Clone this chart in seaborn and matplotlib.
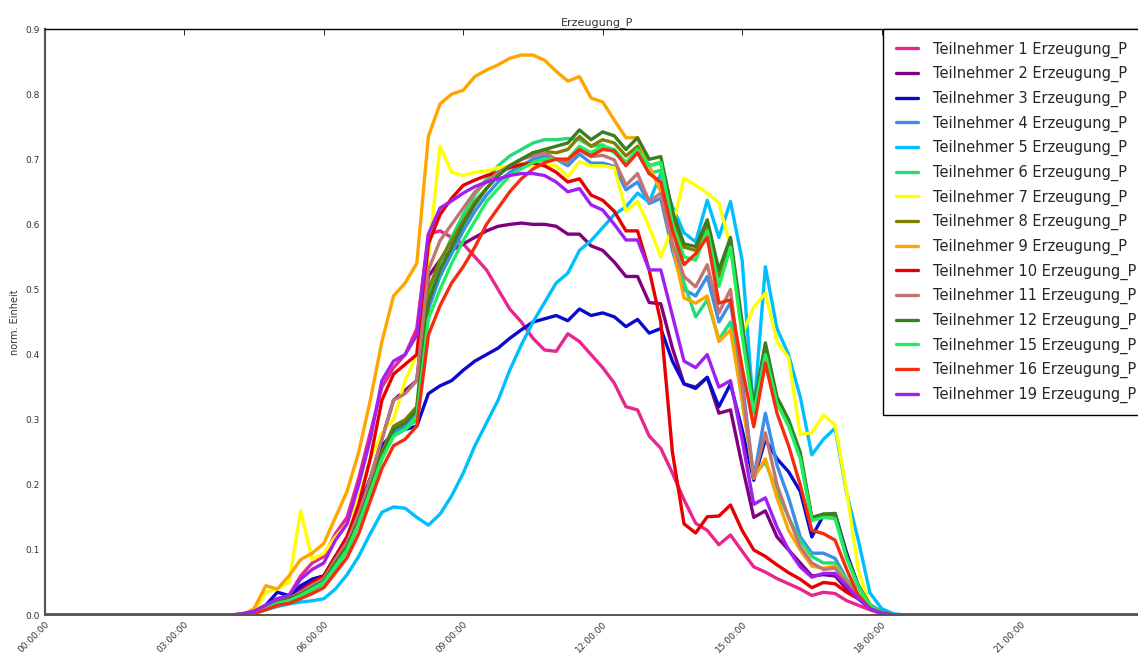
import numpy as np
import pandas as pd
import matplotlib
matplotlib.use("Agg")
import matplotlib.pyplot as plt
import matplotlib.dates as mdates
import seaborn as sns


sns.set_theme(style="white")
plt.rcParams["font.family"] = ["DejaVu Sans"]
plt.rcParams["xtick.direction"] = "in"
plt.rcParams["ytick.direction"] = "in"

# 15-min samples; values listed from 04:00 (index 16) to 18:15 (index 73), zero outside
START = 16
N_STEPS = 96

T1 = [0.0, 0.002, 0.006, 0.015, 0.025, 0.03, 0.06, 0.08, 0.09, 0.125, 0.15, 0.21,
      0.28, 0.35, 0.38, 0.40, 0.44, 0.585, 0.59, 0.58, 0.57, 0.55, 0.53, 0.50,
      0.47, 0.45, 0.425, 0.407, 0.405, 0.432, 0.42, 0.40, 0.38, 0.356, 0.32, 0.315,
      0.275, 0.256, 0.218, 0.177, 0.141, 0.13, 0.108, 0.123, 0.098, 0.074, 0.066, 0.056,
      0.048, 0.04, 0.03, 0.035, 0.033, 0.022, 0.015, 0.008, 0.002, 0.0]
T2 = [0.0, 0.001, 0.004, 0.012, 0.025, 0.025, 0.04, 0.055, 0.06, 0.09, 0.115, 0.16,
      0.21, 0.27, 0.33, 0.345, 0.36, 0.52, 0.545, 0.56, 0.57, 0.58, 0.59, 0.597,
      0.60, 0.602, 0.60, 0.60, 0.597, 0.585, 0.585, 0.567, 0.56, 0.542, 0.52, 0.52,
      0.48, 0.478, 0.41, 0.355, 0.35, 0.365, 0.31, 0.315, 0.23, 0.15, 0.16, 0.12,
      0.10, 0.08, 0.06, 0.062, 0.06, 0.04, 0.025, 0.01, 0.003, 0.0]
T3 = [0.0, 0.001, 0.004, 0.015, 0.035, 0.03, 0.045, 0.055, 0.06, 0.09, 0.12, 0.165,
      0.21, 0.26, 0.28, 0.285, 0.29, 0.34, 0.352, 0.36, 0.376, 0.39, 0.40, 0.41,
      0.425, 0.438, 0.45, 0.455, 0.46, 0.452, 0.47, 0.46, 0.464, 0.458, 0.443, 0.454,
      0.433, 0.44, 0.39, 0.355, 0.348, 0.365, 0.32, 0.355, 0.285, 0.207, 0.27, 0.24,
      0.22, 0.19, 0.12, 0.153, 0.156, 0.095, 0.045, 0.013, 0.004, 0.0]
T4 = [0.0, 0.001, 0.004, 0.012, 0.02, 0.025, 0.032, 0.042, 0.052, 0.08, 0.105, 0.145,
      0.195, 0.245, 0.28, 0.29, 0.31, 0.47, 0.52, 0.555, 0.59, 0.62, 0.645, 0.665,
      0.68, 0.69, 0.70, 0.705, 0.70, 0.69, 0.708, 0.694, 0.694, 0.689, 0.653, 0.665,
      0.632, 0.64, 0.56, 0.50, 0.49, 0.52, 0.45, 0.48, 0.36, 0.21, 0.31, 0.23,
      0.18, 0.12, 0.095, 0.095, 0.087, 0.055, 0.03, 0.012, 0.003, 0.0]
T5 = [0.0, 0.0, 0.003, 0.008, 0.013, 0.017, 0.02, 0.022, 0.025, 0.04, 0.062, 0.09,
      0.125, 0.158, 0.166, 0.164, 0.15, 0.138, 0.155, 0.183, 0.218, 0.26, 0.295, 0.33,
      0.376, 0.415, 0.45, 0.48, 0.51, 0.525, 0.56, 0.575, 0.595, 0.615, 0.627, 0.648,
      0.634, 0.678, 0.627, 0.587, 0.573, 0.637, 0.58, 0.635, 0.545, 0.31, 0.535, 0.44,
      0.40, 0.335, 0.246, 0.27, 0.287, 0.187, 0.115, 0.034, 0.01, 0.002]
T6 = [0.0, 0.001, 0.003, 0.01, 0.018, 0.022, 0.03, 0.038, 0.048, 0.072, 0.098, 0.14,
      0.19, 0.24, 0.275, 0.285, 0.30, 0.49, 0.54, 0.58, 0.615, 0.645, 0.67, 0.69,
      0.705, 0.715, 0.725, 0.73, 0.73, 0.732, 0.73, 0.72, 0.722, 0.71, 0.694, 0.71,
      0.678, 0.683, 0.60, 0.51, 0.458, 0.484, 0.423, 0.45, 0.33, 0.215, 0.235, 0.19,
      0.15, 0.115, 0.09, 0.08, 0.08, 0.054, 0.032, 0.013, 0.004, 0.0]
T7 = [0.0, 0.0, 0.005, 0.035, 0.04, 0.05, 0.16, 0.085, 0.095, 0.12, 0.14, 0.18,
      0.24, 0.28, 0.30, 0.36, 0.40, 0.55, 0.72, 0.68, 0.675, 0.68, 0.682, 0.687,
      0.69, 0.693, 0.69, 0.69, 0.69, 0.673, 0.696, 0.69, 0.69, 0.687, 0.62, 0.635,
      0.596, 0.55, 0.596, 0.671, 0.66, 0.648, 0.633, 0.566, 0.43, 0.473, 0.494, 0.42,
      0.395, 0.277, 0.28, 0.307, 0.292, 0.19, 0.069, 0.015, 0.003, 0.0]
T8 = [0.0, 0.001, 0.004, 0.012, 0.02, 0.025, 0.033, 0.044, 0.055, 0.083, 0.11, 0.15,
      0.20, 0.25, 0.29, 0.30, 0.32, 0.50, 0.545, 0.575, 0.605, 0.635, 0.655, 0.675,
      0.69, 0.70, 0.71, 0.712, 0.71, 0.715, 0.735, 0.72, 0.73, 0.725, 0.705, 0.72,
      0.69, 0.695, 0.61, 0.565, 0.56, 0.60, 0.52, 0.575, 0.44, 0.32, 0.41, 0.33,
      0.295, 0.245, 0.148, 0.155, 0.153, 0.088, 0.044, 0.015, 0.004, 0.0]
T9 = [0.0, 0.0, 0.01, 0.045, 0.04, 0.06, 0.085, 0.095, 0.11, 0.15, 0.19, 0.25,
      0.33, 0.42, 0.49, 0.51, 0.54, 0.735, 0.785, 0.80, 0.806, 0.827, 0.837, 0.845,
      0.855, 0.86, 0.86, 0.852, 0.835, 0.82, 0.827, 0.794, 0.788, 0.76, 0.733, 0.733,
      0.69, 0.65, 0.57, 0.487, 0.479, 0.49, 0.42, 0.438, 0.33, 0.21, 0.24, 0.18,
      0.13, 0.10, 0.075, 0.072, 0.075, 0.05, 0.028, 0.01, 0.003, 0.0]
T10 = [0.0, 0.001, 0.003, 0.01, 0.02, 0.025, 0.035, 0.05, 0.06, 0.09, 0.12, 0.17,
       0.24, 0.33, 0.37, 0.385, 0.40, 0.57, 0.615, 0.64, 0.66, 0.668, 0.675, 0.68,
       0.687, 0.692, 0.694, 0.69, 0.68, 0.665, 0.67, 0.645, 0.637, 0.62, 0.59, 0.59,
       0.53, 0.45, 0.25, 0.14, 0.126, 0.151, 0.152, 0.169, 0.13, 0.10, 0.09, 0.077,
       0.065, 0.055, 0.042, 0.05, 0.048, 0.035, 0.025, 0.013, 0.004, 0.0]
T11 = [0.0, 0.001, 0.004, 0.012, 0.02, 0.025, 0.035, 0.046, 0.056, 0.085, 0.112, 0.155,
       0.21, 0.27, 0.33, 0.34, 0.36, 0.53, 0.575, 0.60, 0.625, 0.65, 0.665, 0.68,
       0.69, 0.70, 0.705, 0.71, 0.70, 0.696, 0.714, 0.704, 0.706, 0.699, 0.66, 0.678,
       0.635, 0.648, 0.57, 0.52, 0.504, 0.538, 0.464, 0.50, 0.35, 0.21, 0.28, 0.20,
       0.15, 0.105, 0.08, 0.07, 0.072, 0.05, 0.028, 0.01, 0.003, 0.0]
T12 = [0.0, 0.001, 0.004, 0.012, 0.02, 0.025, 0.032, 0.042, 0.052, 0.08, 0.105, 0.145,
       0.195, 0.245, 0.285, 0.295, 0.315, 0.48, 0.53, 0.565, 0.60, 0.63, 0.655, 0.675,
       0.69, 0.70, 0.71, 0.715, 0.72, 0.725, 0.745, 0.73, 0.742, 0.736, 0.715, 0.733,
       0.70, 0.704, 0.62, 0.57, 0.566, 0.607, 0.53, 0.58, 0.45, 0.32, 0.418, 0.335,
       0.30, 0.25, 0.15, 0.155, 0.156, 0.09, 0.045, 0.016, 0.005, 0.0]
T15 = [0.0, 0.001, 0.003, 0.01, 0.018, 0.022, 0.03, 0.04, 0.05, 0.075, 0.10, 0.14,
       0.19, 0.24, 0.275, 0.285, 0.305, 0.455, 0.50, 0.54, 0.575, 0.605, 0.635, 0.655,
       0.675, 0.685, 0.695, 0.70, 0.70, 0.70, 0.72, 0.71, 0.72, 0.715, 0.695, 0.715,
       0.69, 0.695, 0.60, 0.55, 0.545, 0.59, 0.505, 0.565, 0.43, 0.31, 0.40, 0.325,
       0.29, 0.24, 0.145, 0.15, 0.148, 0.087, 0.043, 0.015, 0.004, 0.0]
T16 = [0.0, 0.0, 0.002, 0.008, 0.015, 0.018, 0.025, 0.033, 0.042, 0.065, 0.088, 0.125,
       0.175, 0.225, 0.26, 0.27, 0.29, 0.43, 0.475, 0.51, 0.535, 0.565, 0.60, 0.625,
       0.65, 0.67, 0.685, 0.695, 0.70, 0.70, 0.715, 0.705, 0.715, 0.713, 0.69, 0.71,
       0.678, 0.665, 0.59, 0.538, 0.555, 0.58, 0.479, 0.484, 0.38, 0.289, 0.387, 0.31,
       0.26, 0.20, 0.13, 0.125, 0.115, 0.07, 0.03, 0.01, 0.003, 0.0]
T19 = [0.0, 0.002, 0.006, 0.015, 0.025, 0.03, 0.055, 0.07, 0.08, 0.115, 0.14, 0.20,
       0.27, 0.36, 0.39, 0.40, 0.43, 0.585, 0.625, 0.636, 0.648, 0.658, 0.665, 0.67,
       0.675, 0.678, 0.678, 0.675, 0.665, 0.65, 0.655, 0.63, 0.622, 0.60, 0.576, 0.576,
       0.53, 0.53, 0.46, 0.39, 0.38, 0.40, 0.35, 0.36, 0.27, 0.17, 0.18, 0.135,
       0.10, 0.074, 0.058, 0.064, 0.064, 0.045, 0.025, 0.01, 0.003, 0.0]

PARTICIPANTS = [1, 2, 3, 4, 5, 6, 7, 8, 9, 10, 11, 12, 15, 16, 19]
SERIES = [T1, T2, T3, T4, T5, T6, T7, T8, T9, T10, T11, T12, T15, T16, T19]
COLORS = ["#e8278e", "#800080", "#0a0acd", "#3b8ee8", "#00bfff", "#22dd77", "#ffff00",
          "#808000", "#ffa500", "#e80000", "#c07575", "#3a7d22", "#1ef060", "#f52d10",
          "#a020f0"]


def pad(values):
    return [0.0] * START + values + [0.0] * (N_STEPS - START - len(values))


times = pd.date_range("2017-06-01 00:00", periods=N_STEPS, freq="15min")
frames = []
for num, vals in zip(PARTICIPANTS, SERIES):
    frames.append(pd.DataFrame({
        "Zeit": times,
        "Wert": pad(vals),
        "Teilnehmer": f"Teilnehmer {num} Erzeugung_P",
    }))
df = pd.concat(frames, ignore_index=True)
labels = [f"Teilnehmer {n} Erzeugung_P" for n in PARTICIPANTS]

fig = plt.figure(figsize=(11.38, 6.58), dpi=100)
# the axes runs a little past the right edge of the image, as in the original crop
ax = fig.add_axes([0.0395, 0.0653, 0.97, 0.8906])
sns.lineplot(data=df, x="Zeit", y="Wert", hue="Teilnehmer", hue_order=labels,
             palette=COLORS, linewidth=2.4, ax=ax)

ax.set_xlim(times[0], times[-1])
ax.set_ylim(0, 0.9)
ax.set_yticks(np.arange(0, 0.91, 0.1))
ax.yaxis.set_major_formatter(plt.FormatStrFormatter("%.1f"))
ax.xaxis.set_major_locator(mdates.HourLocator(byhour=range(0, 24, 3)))
ax.xaxis.set_major_formatter(mdates.DateFormatter("%H:%M:%S"))
ax.tick_params(axis="both", which="both", direction="in", top=True, right=True,
               length=4, width=0.6, labelsize=6.5, colors="black", labelcolor="#333333")
plt.setp(ax.get_xticklabels(), rotation=45, ha="right", rotation_mode="anchor")
for side in ax.spines.values():
    side.set_color("black")
    side.set_linewidth(1.0)
ax.spines["left"].set_color("#555555")
ax.spines["left"].set_linewidth(1.6)
ax.spines["bottom"].set_color("#555555")
ax.spines["bottom"].set_linewidth(1.4)

ax.set_xlabel("")
ax.set_ylabel("norm. Einheit", fontsize=7, color="#333333")
ax.set_title("Erzeugung_P", fontsize=8, color="#333333", pad=3)

handles, _ = ax.get_legend_handles_labels()
leg = ax.legend(handles, labels, loc="upper right", borderaxespad=0, fontsize=10.5,
                frameon=True, fancybox=False, framealpha=1, edgecolor="black",
                handlelength=1.56, handletextpad=1.0, borderpad=0.85, labelspacing=0.58)
leg.get_frame().set_linewidth(1.0)
for line in leg.get_lines():
    line.set_linewidth(2.4)

fig.savefig("out.png", dpi=100)
